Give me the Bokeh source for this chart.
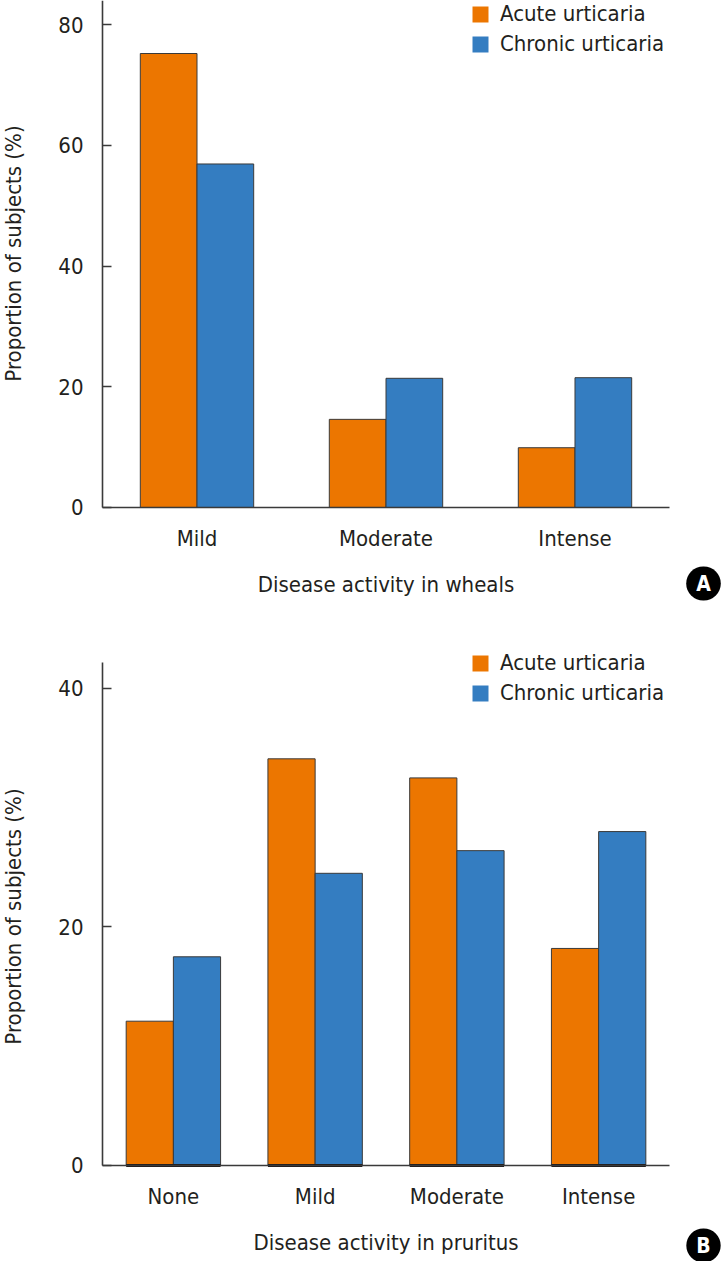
import math
from bokeh.plotting import figure
from bokeh.models import (ColumnDataSource, FixedTicker, Legend, LegendItem, Label,
                          Range1d, LinearAxis)
from bokeh.transform import dodge
from bokeh.layouts import column
from bokeh.embed import file_html
from bokeh.resources import INLINE

# ---- data ----
wheal_categories = ["Mild", "Moderate", "Intense"]
wheal_acute = [75.2, 14.6, 9.9]
wheal_chronic = [56.9, 21.4, 21.5]

pruritus_categories = ["None", "Mild", "Moderate", "Intense"]
pruritus_acute = [12.1, 34.1, 32.5, 18.2]
pruritus_chronic = [17.5, 24.5, 26.4, 28.0]

series_names = ["Acute urticaria", "Chronic urticaria"]
wheal_ticks = [0, 20, 40, 60, 80]
pruritus_ticks = [0, 20, 40]

FONT = "DejaVu Sans Condensed"
FS = "22px"
ORANGE = "#ec7600"
BLUE = "#347dc1"
DARK = "#231f20"
EDGE = "#3a3a3a"


def make_panel(cats, acute, chronic, ticks, y_top, y_lo, y_hi, x_lo, x_hi, bar_w, height,
               xlabel, letter, legend_y, badge_y, ylabel_y, heavy_base=False):
    n = len(cats)
    pos = [i + 0.5 for i in range(n)]
    p = figure(width=726, height=height, x_range=Range1d(x_lo, x_hi),
               y_range=Range1d(y_lo, y_hi), output_backend="svg", toolbar_location=None,
               x_axis_location=None, y_axis_location=None, min_border_left=0,
               min_border_right=0, min_border_top=0, min_border_bottom=0)
    src = ColumnDataSource(dict(pos=pos, acute=acute, chronic=chronic, base=[0] * n))
    p.vbar(x=dodge("pos", -bar_w / 2), top="acute", width=bar_w,
           source=src, fill_color=ORANGE, line_color=EDGE, line_width=1)
    p.vbar(x=dodge("pos", bar_w / 2), top="chronic", width=bar_w,
           source=src, fill_color=BLUE, line_color=EDGE, line_width=1)

    # legend swatches (no outline, nothing drawn in the plot)
    nan = [float("nan")]
    r1 = p.rect(x=nan, y=nan, width=1, height=1, fill_color=ORANGE, line_alpha=0)
    r2 = p.rect(x=nan, y=nan, width=1, height=1, fill_color=BLUE, line_alpha=0)

    p.grid.visible = False
    p.outline_line_color = None
    p.background_fill_color = "white"
    p.border_fill_color = "white"

    xaxis = LinearAxis(fixed_location=0, bounds=(0, n))
    yaxis = LinearAxis(fixed_location=0, bounds=(0, y_top))
    p.add_layout(xaxis, "below")
    p.add_layout(yaxis, "left")

    if heavy_base:
        p.segment(x0=dodge("pos", -bar_w), x1=dodge("pos", bar_w), y0="base", y1="base",
                  source=src, line_color="#1e1a1a", line_width=3)

    for ax in (xaxis, yaxis):
        ax.axis_line_color = EDGE
        ax.axis_line_width = 1.6
        ax.major_label_text_font = FONT
        ax.major_label_text_font_size = FS
        ax.major_label_text_color = DARK
        ax.axis_label_text_font = FONT
        ax.axis_label_text_font_size = FS
        ax.axis_label_text_font_style = "normal"
        ax.axis_label_text_color = DARK
        ax.minor_tick_line_color = None

    xaxis.ticker = FixedTicker(ticks=pos)
    xaxis.major_label_overrides = {x: c for x, c in zip(pos, cats)}
    xaxis.major_tick_in = 0
    xaxis.major_tick_out = 0
    xaxis.major_label_standoff = 19
    xaxis.axis_label = xlabel
    xaxis.axis_label_standoff = 17

    yaxis.ticker = FixedTicker(ticks=ticks)
    yaxis.major_tick_in = 9
    yaxis.major_tick_out = 0
    yaxis.major_tick_line_color = EDGE
    yaxis.major_tick_line_width = 1.6
    yaxis.major_label_standoff = 19

    ylab = Label(x=13, y=ylabel_y, x_units="screen", y_units="screen",
                 text="Proportion of subjects (%)", angle=math.pi / 2,
                 text_font=FONT, text_font_size=FS, text_color=DARK,
                 text_align="center", text_baseline="middle")
    p.add_layout(ylab)

    legend = Legend(items=[LegendItem(label=series_names[0], renderers=[r1]),
                           LegendItem(label=series_names[1], renderers=[r2])],
                    location=(470, legend_y), padding=0, margin=0,
                    spacing=5, glyph_width=20, glyph_height=20, label_height=18,
                    label_standoff=10, border_line_color=None,
                    background_fill_alpha=0,
                    label_text_font=FONT, label_text_font_size=FS,
                    label_text_color=DARK)
    p.add_layout(legend, "center")

    badge = Label(x=703, y=badge_y, x_units="screen", y_units="screen", text=letter,
                  text_font=FONT, text_font_size="21px", text_font_style="bold",
                  text_color="white", text_align="center", text_baseline="middle",
                  background_fill_color="black", padding=(10, 5), border_radius=17)
    p.add_layout(badge)
    return p


pA = make_panel(wheal_categories, wheal_acute, wheal_chronic, wheal_ticks,
                84.0, -19.05, 83.98, -0.5397, 3.3016, 0.30, 622,
                "Disease activity in wheals", "A", 566, 39, 369)
pB = make_panel(pruritus_categories, pruritus_acute, pruritus_chronic, pruritus_ticks,
                42.18, -8.05, 45.53, -0.7196, 4.402, 0.333, 639,
                "Disease activity in pruritus", "B", 556, 16, 345, heavy_base=True)

layout = column(pA, pB, spacing=0)
open("out.html", "w").write(file_html(layout, INLINE))
